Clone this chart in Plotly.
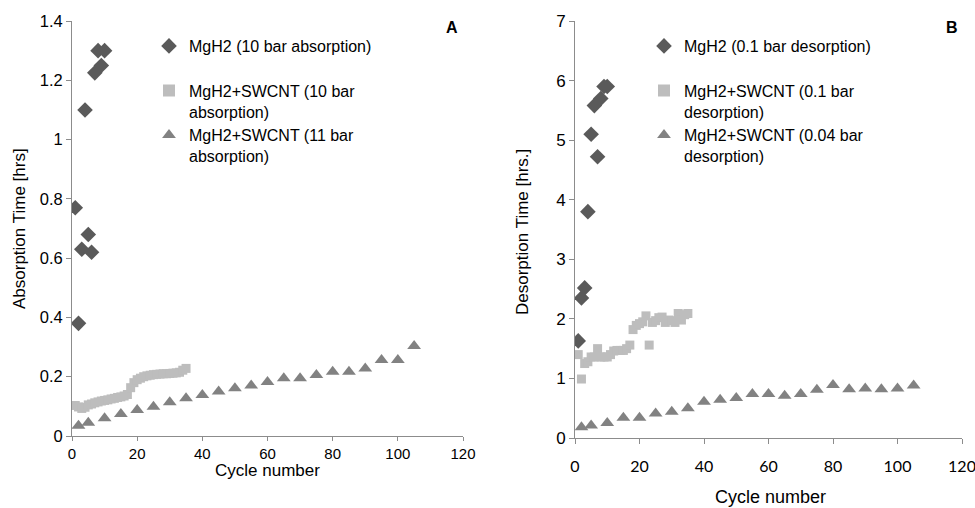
import plotly.graph_objects as go

# ---------------- Data: Panel A (absorption) ----------------
a_mgh2_x = [1, 2, 3, 4, 5, 6, 7, 8, 9, 10]
a_mgh2_y = [0.77, 0.38, 0.63, 1.10, 0.68, 0.62, 1.225, 1.30, 1.25, 1.30]

a_swcnt10_x = list(range(1, 36))
a_swcnt10_y = [0.103, 0.098, 0.093, 0.097, 0.105, 0.108, 0.112, 0.115, 0.118, 0.120,
               0.122, 0.125, 0.127, 0.130, 0.132, 0.135, 0.140, 0.163, 0.180, 0.190,
               0.195, 0.200, 0.203, 0.205, 0.207, 0.208, 0.209, 0.210, 0.210, 0.211,
               0.212, 0.213, 0.215, 0.222, 0.228]

a_swcnt11_x = [2, 5, 10, 15, 20, 25, 30, 35, 40, 45, 50, 55, 60, 65, 70, 75, 80, 85, 90, 95, 100, 105]
a_swcnt11_y = [0.035, 0.045, 0.060, 0.074, 0.088, 0.099, 0.114, 0.127, 0.138, 0.150, 0.161,
               0.170, 0.182, 0.195, 0.195, 0.206, 0.217, 0.217, 0.228, 0.256, 0.256, 0.304]

# ---------------- Data: Panel B (desorption) ----------------
b_mgh2_x = [1, 2, 3, 4, 5, 6, 7, 8, 9, 10]
b_mgh2_y = [1.63, 2.35, 2.52, 3.80, 5.10, 5.58, 4.72, 5.70, 5.90, 5.90]

b_swcnt01_x = list(range(1, 36))
b_swcnt01_y = [1.40, 0.99, 1.25, 1.28, 1.36, 1.36, 1.50, 1.36, 1.36, 1.36,
               1.40, 1.46, 1.47, 1.47, 1.47, 1.50, 1.56, 1.82, 1.89, 1.92,
               1.95, 2.05, 1.56, 1.94, 1.97, 2.02, 2.03, 1.94, 1.98, 1.97,
               1.94, 2.09, 1.98, 2.07, 2.09]

b_swcnt004_x = [2, 5, 10, 15, 20, 25, 30, 35, 40, 45, 50, 55, 60, 65, 70, 75, 80, 85, 90, 95, 100, 105]
b_swcnt004_y = [0.18, 0.21, 0.25, 0.34, 0.34, 0.41, 0.44, 0.50, 0.61, 0.64, 0.67,
                0.74, 0.74, 0.71, 0.74, 0.81, 0.89, 0.82, 0.83, 0.82, 0.83, 0.88]

a_yticks = [0, 0.2, 0.4, 0.6, 0.8, 1, 1.2, 1.4]
a_yticktext = ["0", "0.2", "0.4", "0.6", "0.8", "1", "1.2", "1.4"]
b_yticks = [0, 1, 2, 3, 4, 5, 6, 7]
x_ticks = [0, 20, 40, 60, 80, 100, 120]

DARK = "#5a5a5a"
LIGHT = "#bdbdbd"
MID = "#828282"
AXIS = "#8c8c8c"
FONT = "Liberation Sans, Arial, sans-serif"

W, H = 975, 508

def px_x(p):
    return p / W

def px_y(p):
    return 1 - p / H

fig = go.Figure()

# Panel A traces
fig.add_trace(go.Scatter(x=a_mgh2_x, y=a_mgh2_y, mode="markers", name="MgH2 (10 bar absorption)<br> ",
                         marker=dict(symbol="diamond", size=12, color=DARK), xaxis="x", yaxis="y",
                         legend="legend"))
fig.add_trace(go.Scatter(x=a_swcnt10_x, y=a_swcnt10_y, mode="markers", name="MgH2+SWCNT (10 bar<br>absorption)",
                         marker=dict(symbol="square", size=9, color=LIGHT), xaxis="x", yaxis="y",
                         legend="legend"))
fig.add_trace(go.Scatter(x=a_swcnt11_x, y=a_swcnt11_y, mode="markers", name="MgH2+SWCNT (11 bar<br>absorption)",
                         marker=dict(symbol="triangle-up", size=12, color=MID), xaxis="x", yaxis="y",
                         legend="legend"))

# Panel B traces
fig.add_trace(go.Scatter(x=b_mgh2_x, y=b_mgh2_y, mode="markers", name="MgH2 (0.1 bar desorption)<br> ",
                         marker=dict(symbol="diamond", size=12, color=DARK), xaxis="x2", yaxis="y2",
                         legend="legend2"))
fig.add_trace(go.Scatter(x=b_swcnt01_x, y=b_swcnt01_y, mode="markers", name="MgH2+SWCNT (0.1 bar<br>desorption)",
                         marker=dict(symbol="square", size=9, color=LIGHT), xaxis="x2", yaxis="y2",
                         legend="legend2"))
fig.add_trace(go.Scatter(x=b_swcnt004_x, y=b_swcnt004_y, mode="markers", name="MgH2+SWCNT (0.04 bar<br>desorption)",
                         marker=dict(symbol="triangle-up", size=12, color=MID), xaxis="x2", yaxis="y2",
                         legend="legend2"))

axis_common = dict(showline=True, linecolor=AXIS, linewidth=1, ticks="outside", tickcolor=AXIS,
                   ticklen=5, tickwidth=1, showgrid=False, zeroline=False, automargin=False,
                   ticklabeloverflow="allow",
                   tickfont=dict(family=FONT, size=16, color="#000000"))

legend_common = dict(font=dict(family=FONT, size=16, color="#000000"), bgcolor="rgba(0,0,0,0)",
                     valign="top", tracegroupgap=0, itemsizing="constant",
                     xanchor="left", yanchor="top")

fig.update_layout(
    width=W, height=H,
    margin=dict(l=0, r=0, t=0, b=0),
    paper_bgcolor="white", plot_bgcolor="white",
    showlegend=True,
    xaxis=dict(domain=[px_x(72), px_x(463)], range=[0, 120], tickvals=x_ticks, anchor="y",
               **{**axis_common, "ticklen": 4, "tickfont": dict(family=FONT, size=15, color="#000000")}),
    yaxis=dict(domain=[px_y(436), px_y(21)], range=[0, 1.4], tickvals=a_yticks, ticktext=a_yticktext,
               anchor="x", **{**axis_common, "tickfont": dict(family=FONT, size=16.5, color="#000000")}),
    xaxis2=dict(domain=[px_x(575), px_x(962)], range=[0, 120], tickvals=x_ticks, anchor="y2",
                ticklabelstandoff=9, **{**axis_common, "tickfont": dict(family="Lato, sans-serif", size=16, color="#000000")}),
    yaxis2=dict(domain=[px_y(438), px_y(21)], range=[0, 7], tickvals=b_yticks, anchor="x2",
                **{**axis_common, "tickfont": dict(family=FONT, size=17, color="#000000")}),
    legend=dict(x=px_x(149), y=px_y(29), **legend_common),
    legend2=dict(x=px_x(644), y=px_y(29), **legend_common),
    annotations=[
        dict(text="Cycle number", x=px_x(267), y=px_y(470), xref="paper", yref="paper",
             showarrow=False, font=dict(family=FONT, size=17, color="#000000"), xanchor="center", yanchor="middle"),
        dict(text="Cycle number", x=px_x(770), y=px_y(497), xref="paper", yref="paper",
             showarrow=False, font=dict(family=FONT, size=18, color="#000000"), xanchor="center", yanchor="middle"),
        dict(text="Absorption Time [hrs]", x=px_x(19), y=px_y(229), xref="paper", yref="paper", textangle=-90,
             showarrow=False, font=dict(family=FONT, size=17, color="#000000"), xanchor="center", yanchor="middle"),
        dict(text="Desorption Time [hrs.]", x=px_x(522), y=px_y(232), xref="paper", yref="paper", textangle=-90,
             showarrow=False, font=dict(family=FONT, size=17, color="#000000"), xanchor="center", yanchor="middle"),
        dict(text="<b>A</b>", x=px_x(452), y=px_y(27), xref="paper", yref="paper",
             showarrow=False, font=dict(family=FONT, size=16, color="#000000"), xanchor="center", yanchor="middle"),
        dict(text="<b>B</b>", x=px_x(952), y=px_y(27), xref="paper", yref="paper",
             showarrow=False, font=dict(family=FONT, size=16, color="#000000"), xanchor="center", yanchor="middle"),
    ],
)

fig.write_html("out.html")
